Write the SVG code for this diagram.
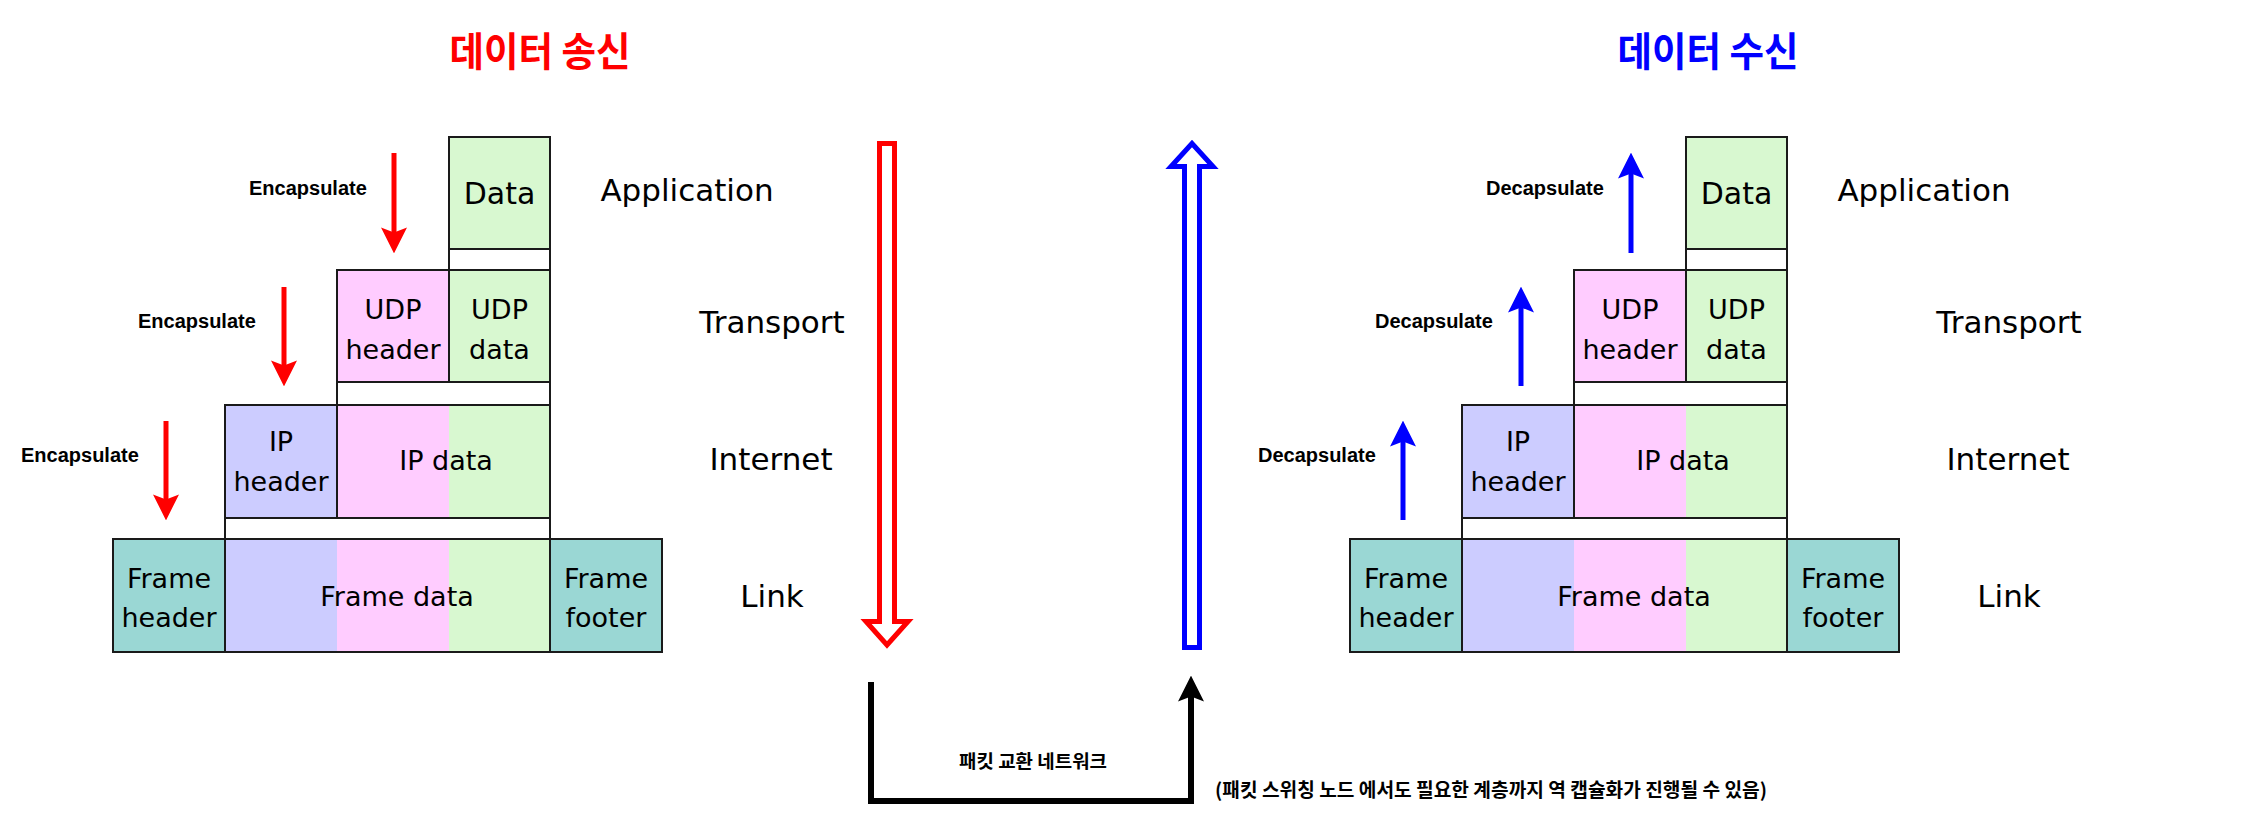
<svg xmlns="http://www.w3.org/2000/svg" width="2244" height="831" viewBox="0 0 2244 831">
<style>
.box{stroke:#1a1a1a;stroke-width:2;}
.nb{stroke:none;}
.g{fill:#d8f8d0;}
.p{fill:#ffccff;}
.b{fill:#ccccff;}
.t{fill:#9ad7d4;}
.w{fill:#ffffff;}
.outline{fill:none;stroke:#1a1a1a;stroke-width:2;}
.bt{font-family:"DejaVu Sans",sans-serif;font-size:27px;fill:#000;text-anchor:middle;}
.dt{font-family:"DejaVu Sans",sans-serif;font-size:30px;fill:#000;text-anchor:middle;}
.lt{font-family:"DejaVu Sans",sans-serif;font-size:31px;fill:#000;text-anchor:middle;}
.en{font-family:"Liberation Sans",Arial,sans-serif;font-weight:bold;font-size:20px;fill:#000;}
.ko{font-family:"Noto Sans CJK KR",sans-serif;font-weight:bold;fill:#000;}
.title{font-family:"Noto Sans CJK KR",sans-serif;font-weight:bold;font-size:40px;text-anchor:middle;}
</style>
<defs>
<marker id="hr" markerUnits="userSpaceOnUse" markerWidth="26" markerHeight="26" viewBox="0 0 25 25" refX="15" refY="12.5" orient="auto">
<path d="M25,12.5 L0,0 L5,12.5 L0,25 Z" fill="#ff0000"/>
</marker>
<marker id="hb" markerUnits="userSpaceOnUse" markerWidth="26" markerHeight="26" viewBox="0 0 25 25" refX="15" refY="12.5" orient="auto">
<path d="M25,12.5 L0,0 L5,12.5 L0,25 Z" fill="#0000ff"/>
</marker>
<marker id="hk" markerUnits="userSpaceOnUse" markerWidth="26" markerHeight="26" viewBox="0 0 25 25" refX="15" refY="12.5" orient="auto">
<path d="M25,12.5 L0,0 L5,12.5 L0,25 Z" fill="#000000"/>
</marker>
</defs>
<rect width="2244" height="831" fill="#ffffff"/>

<text class="title" x="540" y="66" fill="#ff0000" textLength="181" lengthAdjust="spacingAndGlyphs">데이터 송신</text>
<text class="title" x="1708" y="66" fill="#0000ff" textLength="181" lengthAdjust="spacingAndGlyphs">데이터 수신</text>

<!-- Sender stack -->
<g id="send-data">
<rect class="box g" x="449" y="137" width="101" height="112"/>
<rect class="box w" x="449" y="249" width="101" height="21"/>
<text class="dt" x="499.5" y="204">Data</text>
</g>
<g id="send-udp-header">
<rect class="box p" x="337" y="270" width="112" height="112"/>
<text class="bt" x="393" y="319">UDP</text>
<text class="bt" x="393" y="359">header</text>
</g>
<g id="send-udp-data">
<rect class="box g" x="449" y="270" width="101" height="112"/>
<rect class="box w" x="337" y="382" width="213" height="23"/>
<text class="bt" x="499.5" y="319">UDP</text>
<text class="bt" x="499.5" y="359">data</text>
</g>
<g id="send-ip-header">
<rect class="box b" x="225" y="405" width="112" height="113"/>
<text class="bt" x="281" y="451">IP</text>
<text class="bt" x="281" y="491">header</text>
</g>
<g id="send-ip-data">
<rect class="nb p" x="337" y="405" width="112" height="113"/>
<rect class="nb g" x="449" y="405" width="101" height="113"/>
<rect class="outline" x="337" y="405" width="213" height="113"/>
<rect class="box w" x="225" y="518" width="325" height="21"/>
<text class="bt" x="446" y="470">IP data</text>
</g>
<g id="send-frame-header">
<rect class="box t" x="113" y="539" width="112" height="113"/>
<text class="bt" x="169" y="588">Frame</text>
<text class="bt" x="169" y="627">header</text>
</g>
<g id="send-frame-data">
<rect class="nb b" x="225" y="539" width="112" height="113"/>
<rect class="nb p" x="337" y="539" width="112" height="113"/>
<rect class="nb g" x="449" y="539" width="101" height="113"/>
<rect class="outline" x="225" y="539" width="325" height="113"/>
<text class="bt" x="397" y="606">Frame data</text>
</g>
<g id="send-frame-footer">
<rect class="box t" x="550" y="539" width="112" height="113"/>
<text class="bt" x="606" y="588">Frame</text>
<text class="bt" x="606" y="627">footer</text>
</g>
<g id="send-layers">
<text class="lt" x="687" y="201">Application</text>
<text class="lt" x="772" y="333">Transport</text>
<text class="lt" x="771" y="470">Internet</text>
<text class="lt" x="772" y="607">Link</text>
</g>
<g id="send-labels">
<text class="en" x="249" y="195">Encapsulate</text>
<text class="en" x="138" y="328">Encapsulate</text>
<text class="en" x="21" y="462">Encapsulate</text>
</g>

<!-- Receiver stack -->
<g id="recv-data">
<rect class="box g" x="1686" y="137" width="101" height="112"/>
<rect class="box w" x="1686" y="249" width="101" height="21"/>
<text class="dt" x="1736.5" y="204">Data</text>
</g>
<g id="recv-udp-header">
<rect class="box p" x="1574" y="270" width="112" height="112"/>
<text class="bt" x="1630" y="319">UDP</text>
<text class="bt" x="1630" y="359">header</text>
</g>
<g id="recv-udp-data">
<rect class="box g" x="1686" y="270" width="101" height="112"/>
<rect class="box w" x="1574" y="382" width="213" height="23"/>
<text class="bt" x="1736.5" y="319">UDP</text>
<text class="bt" x="1736.5" y="359">data</text>
</g>
<g id="recv-ip-header">
<rect class="box b" x="1462" y="405" width="112" height="113"/>
<text class="bt" x="1518" y="451">IP</text>
<text class="bt" x="1518" y="491">header</text>
</g>
<g id="recv-ip-data">
<rect class="nb p" x="1574" y="405" width="112" height="113"/>
<rect class="nb g" x="1686" y="405" width="101" height="113"/>
<rect class="outline" x="1574" y="405" width="213" height="113"/>
<rect class="box w" x="1462" y="518" width="325" height="21"/>
<text class="bt" x="1683" y="470">IP data</text>
</g>
<g id="recv-frame-header">
<rect class="box t" x="1350" y="539" width="112" height="113"/>
<text class="bt" x="1406" y="588">Frame</text>
<text class="bt" x="1406" y="627">header</text>
</g>
<g id="recv-frame-data">
<rect class="nb b" x="1462" y="539" width="112" height="113"/>
<rect class="nb p" x="1574" y="539" width="112" height="113"/>
<rect class="nb g" x="1686" y="539" width="101" height="113"/>
<rect class="outline" x="1462" y="539" width="325" height="113"/>
<text class="bt" x="1634" y="606">Frame data</text>
</g>
<g id="recv-frame-footer">
<rect class="box t" x="1787" y="539" width="112" height="113"/>
<text class="bt" x="1843" y="588">Frame</text>
<text class="bt" x="1843" y="627">footer</text>
</g>
<g id="recv-layers">
<text class="lt" x="1924" y="201">Application</text>
<text class="lt" x="2009" y="333">Transport</text>
<text class="lt" x="2008" y="470">Internet</text>
<text class="lt" x="2009" y="607">Link</text>
</g>
<g id="recv-labels">
<text class="en" x="1486" y="195">Decapsulate</text>
<text class="en" x="1375" y="328">Decapsulate</text>
<text class="en" x="1258" y="462">Decapsulate</text>
</g>

<g id="network-labels">
<text class="ko" x="1033" y="768" font-size="18" text-anchor="middle" textLength="148" lengthAdjust="spacingAndGlyphs">패킷 교환 네트워크</text>
<text class="ko" x="1215" y="797" font-size="19" textLength="552" lengthAdjust="spacingAndGlyphs">(패킷 스위칭 노드 에서도 필요한 계층까지 역 캡슐화가 진행될 수 있음)</text>
</g>

<g id="connectors">
<line x1="394" y1="153" x2="394" y2="243" stroke="#ff0000" stroke-width="5" marker-end="url(#hr)"/>
<line x1="284" y1="287" x2="284" y2="376" stroke="#ff0000" stroke-width="5" marker-end="url(#hr)"/>
<line x1="166" y1="421" x2="166" y2="510" stroke="#ff0000" stroke-width="5" marker-end="url(#hr)"/>
<line x1="1631" y1="253" x2="1631" y2="163" stroke="#0000ff" stroke-width="5" marker-end="url(#hb)"/>
<line x1="1521" y1="386" x2="1521" y2="297" stroke="#0000ff" stroke-width="5" marker-end="url(#hb)"/>
<line x1="1403" y1="520" x2="1403" y2="431" stroke="#0000ff" stroke-width="5" marker-end="url(#hb)"/>
<path d="M879.5,143.5 H894.5 V621.5 H908 L887,645 L866,621.5 H879.5 Z" fill="#ffffff" stroke="#ff0000" stroke-width="5"/>
<path d="M1184.5,647.5 H1199.5 V166.5 H1213 L1192,143.5 L1171,166.5 H1184.5 Z" fill="#ffffff" stroke="#0000ff" stroke-width="5"/>
<path d="M871,682 V801 H1191 V686" fill="none" stroke="#000000" stroke-width="6" marker-end="url(#hk)"/>
</g>
</svg>
